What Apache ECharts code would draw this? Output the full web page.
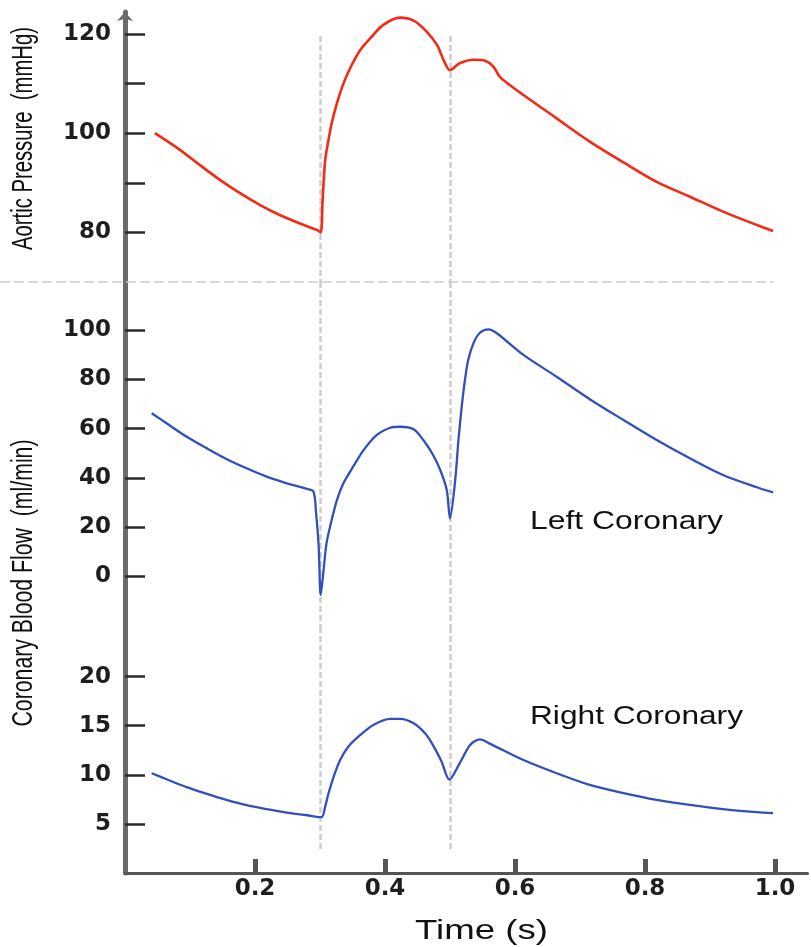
<!DOCTYPE html>
<html>
<head>
<meta charset="utf-8">
<script src="https://cdn.jsdelivr.net/npm/echarts@6/dist/echarts.min.js"></script>
<style>
  html, body { margin: 0; padding: 0; background: #fff; }
  #main { width: 811px; height: 947px; }
</style>
</head>
<body>
<div id="main"></div>
<script>
// ---- data ----
const aorticTime = [0.046, 0.085, 0.115, 0.146, 0.177, 0.208, 0.238, 0.269, 0.295, 0.301, 0.304, 0.308, 0.313, 0.318, 0.326, 0.336, 0.349, 0.362, 0.377, 0.397, 0.423, 0.444, 0.464, 0.480, 0.490, 0.500, 0.515, 0.536, 0.554, 0.567, 0.577, 0.613, 0.664, 0.715, 0.767, 0.818, 0.869, 0.920, 0.972, 0.997];
const aorticPressure = [100.0, 96.6, 93.6, 90.6, 87.9, 85.5, 83.5, 81.8, 80.5, 80.0, 86.5, 94.6, 98.6, 102.0, 106.0, 110.0, 113.8, 116.8, 119.1, 121.8, 123.3, 122.7, 120.5, 117.8, 114.8, 112.7, 114.1, 114.8, 114.6, 113.4, 111.3, 107.7, 103.0, 98.3, 94.1, 90.2, 87.2, 84.2, 81.5, 80.3];

const leftTime = [0.041, 0.064, 0.095, 0.126, 0.156, 0.187, 0.218, 0.249, 0.280, 0.290, 0.294, 0.298, 0.301, 0.305, 0.310, 0.318, 0.326, 0.336, 0.351, 0.367, 0.387, 0.408, 0.423, 0.444, 0.459, 0.474, 0.485, 0.495, 0.500, 0.508, 0.513, 0.518, 0.523, 0.528, 0.536, 0.546, 0.559, 0.572, 0.613, 0.664, 0.715, 0.767, 0.818, 0.869, 0.920, 0.972, 0.997];
const leftFlow = [66.3, 62.2, 56.7, 52.0, 47.7, 43.9, 40.5, 37.8, 35.5, 34.4, 25.6, 12.0, -7.6, 1.2, 13.4, 22.9, 31.0, 37.8, 44.6, 51.3, 57.4, 60.4, 60.8, 59.8, 55.4, 49.3, 43.2, 35.1, 23.6, 39.1, 55.4, 68.9, 79.8, 87.9, 94.7, 99.0, 100.4, 98.8, 90.0, 81.1, 72.0, 63.5, 55.4, 48.0, 41.2, 36.2, 34.1];

const rightTime = [0.041, 0.064, 0.095, 0.126, 0.156, 0.187, 0.218, 0.249, 0.280, 0.302, 0.308, 0.313, 0.321, 0.331, 0.344, 0.362, 0.382, 0.408, 0.423, 0.444, 0.462, 0.474, 0.487, 0.499, 0.515, 0.531, 0.546, 0.562, 0.613, 0.664, 0.715, 0.767, 0.818, 0.869, 0.920, 0.972, 0.997];
const rightFlow = [10.16, 9.55, 8.74, 8.05, 7.44, 6.90, 6.50, 6.15, 5.88, 5.68, 6.76, 8.10, 9.80, 11.50, 12.90, 14.06, 15.08, 15.70, 15.70, 15.25, 14.20, 13.00, 11.35, 9.50, 11.18, 13.04, 13.60, 13.15, 11.50, 10.16, 8.97, 8.13, 7.44, 6.93, 6.50, 6.19, 6.09];

const aorticTicks = [80, 90, 100, 110, 120];
const aorticLabels = [80, 100, 120];
const leftTicks = [0, 20, 40, 60, 80, 100];
const rightTicks = [5, 10, 15, 20];
const timeTicks = [0.2, 0.4, 0.6, 0.8, 1.0];
const markerTimes = [0.3, 0.5];

const aorticName = 'Aortic Pressure  (mmHg)';
const flowName = 'Coronary Blood Flow  (ml/min)';
const timeName = 'Time (s)';
const leftName = 'Left Coronary';
const rightName = 'Right Coronary';

// ---- layout ----
const GL = 125, GW = 682.5;
const yRanges = [
  { min: 70, max: 124.44 },
  { min: -20.61, max: 119.63 },
  { min: 0, max: 25.05 }
];
const grids = [
  { left: GL, width: GW, top: 12, height: 270 },
  { left: GL, width: GW, top: 282, height: 345 },
  { left: GL, width: GW, top: 627, height: 246 }
];

const zip = (a, b) => a.map((v, i) => [v, b[i]]);
const labelFont = { color: '#1e1e1e', fontSize: 23, fontFamily: 'DejaVu Sans', fontWeight: 'bold' };

function makeY(i, ticks, labels, arrow) {
  return {
    type: 'value', gridIndex: i, min: yRanges[i].min, max: yRanges[i].max,
    axisLine: { show: true, onZero: false, lineStyle: { color: '#6b6b6b', width: 5 },
      symbol: arrow ? ['none', 'arrow'] : 'none', symbolSize: [12, 9] },
    axisTick: { show: true, inside: true, length: 20, customValues: ticks,
      lineStyle: { color: '#2a2a2a', width: 2.5 } },
    axisLabel: Object.assign({ show: true, margin: 14, customValues: labels }, labelFont),
    splitLine: { show: false }
  };
}

function vlines(i, top, bottom) {
  return {
    silent: true, symbol: ['none', 'none'], label: { show: false },
    lineStyle: { color: '#cdcdcd', type: [6, 3], width: 2.5 },
    emphasis: { disabled: true },
    data: markerTimes.map(t => [{ coord: [t, top] }, { coord: [t, bottom] }])
  };
}

const chart = echarts.init(document.getElementById('main'), null, { renderer: 'canvas' });

const option = {
  animation: false,
  backgroundColor: '#ffffff',
  grid: grids.map(g => Object.assign({ outerBoundsMode: 'none', containLabel: false }, g)),
  xAxis: [0, 1, 2].map(i => ({
    type: 'value', gridIndex: i, min: 0, max: 1.05, show: i === 2,
    axisLine: { show: true, onZero: false, lineStyle: { color: '#555', width: 3 } },
    axisTick: { show: true, inside: true, length: 14, customValues: timeTicks,
      lineStyle: { color: '#555', width: 5 } },
    axisLabel: Object.assign({ show: true, margin: 5, customValues: timeTicks,
      formatter: v => Number(v).toFixed(1) }, labelFont),
    splitLine: { show: false }
  })),
  yAxis: [
    makeY(0, aorticTicks, aorticLabels, true),
    makeY(1, leftTicks, leftTicks, false),
    makeY(2, rightTicks, rightTicks, false)
  ],
  series: [
    { type: 'line', name: 'Aortic Pressure', xAxisIndex: 0, yAxisIndex: 0,
      data: zip(aorticTime, aorticPressure), showSymbol: false, smooth: 0.3,
      lineStyle: { color: '#f42a14', width: 2.6 }, z: 5,
      markLine: vlines(0, 119.6, 70.01) },
    { type: 'line', name: 'Left Coronary', xAxisIndex: 1, yAxisIndex: 1,
      data: zip(leftTime, leftFlow), showSymbol: false, smooth: 0.3,
      lineStyle: { color: '#3150b9', width: 2.3 }, z: 5,
      markLine: vlines(1, 119.6, -20.6) },
    { type: 'line', name: 'Right Coronary', xAxisIndex: 2, yAxisIndex: 2,
      data: zip(rightTime, rightFlow), showSymbol: false, smooth: 0.3,
      lineStyle: { color: '#3150b9', width: 2.3 }, z: 5,
      markLine: vlines(2, 25.04, 2.35) }
  ]
};
chart.setOption(option);

// ---- text annotations and separator ----
const ctx = document.createElement('canvas').getContext('2d');
function measure(text, font) { ctx.font = font; return ctx.measureText(text).width; }
function fitText(text, font, cx, cy, targetLen, rotated, sy) {
  const w = measure(text, font);
  return {
    type: 'text', x: cx, y: cy, rotation: rotated ? Math.PI / 2 : 0,
    scaleX: targetLen / w, scaleY: sy || 1, silent: true, z: 10,
    style: { text: text, font: font, fill: '#111', align: 'center', verticalAlign: 'middle',
      textAlign: 'center', textVerticalAlign: 'middle' }
  };
}

const sepY = chart.convertToPixel({ xAxisIndex: 0, yAxisIndex: 0 }, [0, 70])[1];
const sepRight = chart.convertToPixel({ xAxisIndex: 0, yAxisIndex: 0 }, [0.997, 70])[0];
const F = '"Liberation Sans", Arial, sans-serif';

chart.setOption({
  graphic: [
    { type: 'line', silent: true, z: 1,
      shape: { x1: 0, y1: sepY, x2: sepRight, y2: sepY },
      style: { stroke: '#cccccc', lineWidth: 1.5, lineDash: [10, 4] } },
    fitText(aorticName, '20px ' + F, 24, 138.5, 223, true, 1.5),
    fitText(flowName, '20px ' + F, 24, 583, 287, true, 1.5),
    fitText(leftName, '26px ' + F, 626.5, 522, 193, false, 1),
    fitText(rightName, '26px ' + F, 636.5, 717, 213, false, 1),
    fitText(timeName, '28px ' + F, 481.5, 931, 133, false, 1)
  ]
});
</script>
</body>
</html>
